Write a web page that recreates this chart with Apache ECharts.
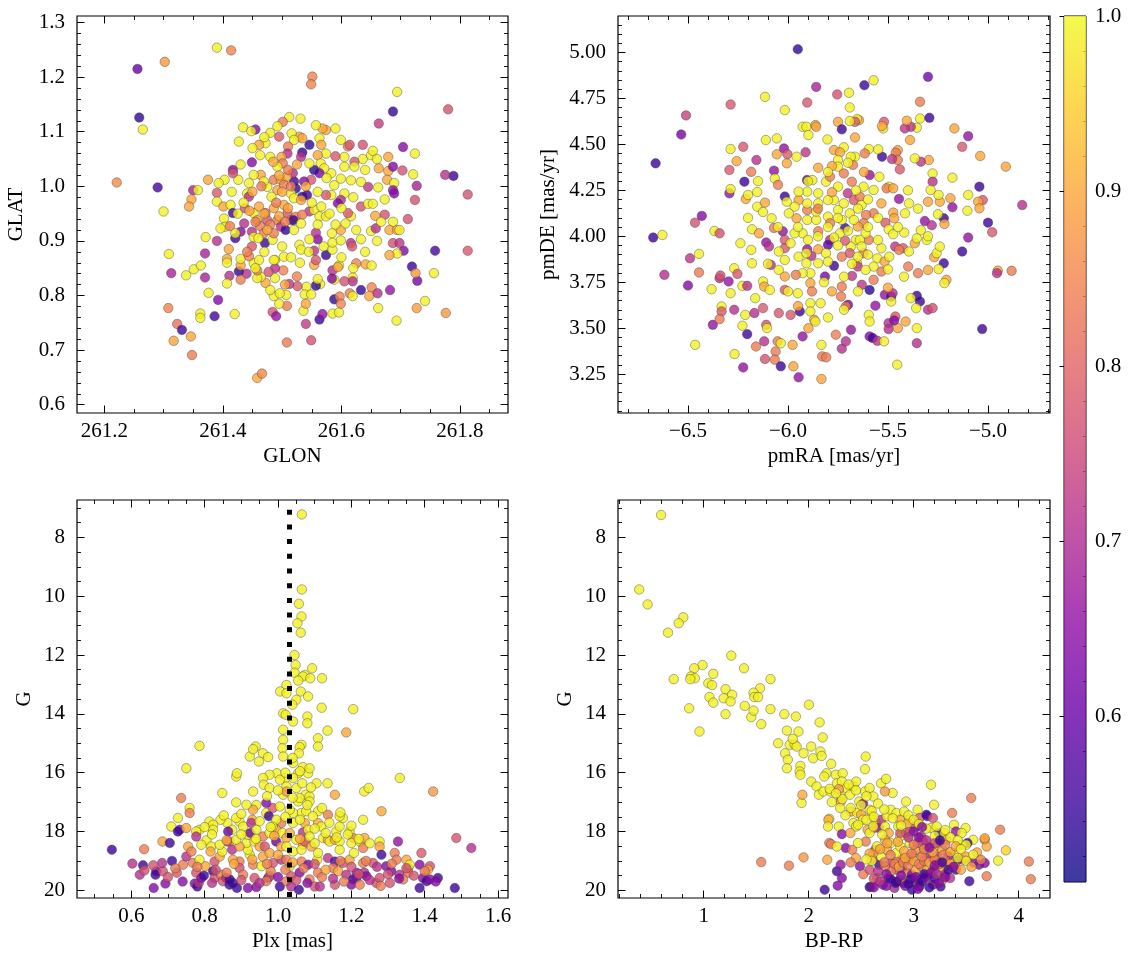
<!DOCTYPE html>
<html><head><meta charset="utf-8">
<script src="https://cdn.jsdelivr.net/npm/echarts@6/dist/echarts.min.js"></script>
<style>html,body{margin:0;padding:0;background:#fff}#c{width:1133px;height:965px}</style>
</head><body><div id="c"></div>
<script>
// ---- data: [x, y, membership probability] ----
const glonGlat = [
[261.390,1.254,.99],[261.414,1.249,.85],[261.256,1.215,.60],[261.302,1.228,.88],[261.551,1.201,.85],[261.549,1.187,.85],[261.694,1.173,.99],[261.259,1.126,.54],[261.265,1.104,.99],[261.687,1.137,.54],[261.780,1.141,.77],[261.663,1.115,.73],[261.221,1.007,.86],[261.290,0.998,.56],[261.300,0.954,.99],[261.789,1.019,.55],[261.775,1.021,.71],[261.813,0.985,.77],[261.813,0.882,.78],[261.758,0.882,.56],[261.756,0.841,.99],[261.741,0.790,.99],[261.727,0.777,.89],[261.776,0.768,.88],[261.693,0.754,.99],[261.719,0.853,.55],[261.728,0.827,.62],[261.725,0.841,.88],[261.724,0.975,.77],[261.727,1.001,.69],[261.724,1.060,.99],[261.704,1.072,.64],[261.703,1.029,.77],[261.721,1.022,.99],[261.712,0.940,.77],[261.705,0.882,.64],
[261.308,0.777,.85],[261.313,0.841,.69],[261.309,0.876,.99],[261.323,0.748,.82],[261.331,0.737,.55],[261.317,0.717,.9],[261.346,0.725,.9],[261.348,0.691,.84],[261.386,0.762,.56],[261.392,0.792,.64],[261.362,0.767,.99],[261.362,0.759,.99],[261.420,0.766,.99],[261.350,0.993,.69],[261.347,0.976,.9],[261.343,0.963,.9],[261.358,0.993,.99],[261.375,1.012,.9],[261.338,0.837,.99],[261.351,0.848,.99],[261.363,0.855,.99],[261.370,0.877,.69],[261.371,0.907,.99],[261.390,0.900,.71],[261.370,0.833,.69],[261.376,0.805,.99],[261.390,0.988,.78],[261.458,0.649,.9],[261.466,0.657,.86],[261.508,0.714,.84],[261.549,0.718,.77],[261.540,0.748,.73],[261.563,0.756,.55],[261.568,0.766,.66],[261.536,0.772,.99],[261.585,0.767,.99],[261.596,0.769,.99],[261.662,0.777,.99],[261.484,0.770,.77],[261.490,0.762,.66],[261.508,0.781,.84],[261.495,0.785,.99],
[261.588,0.793,.54],[261.597,0.798,.85],[261.599,0.785,.85],[261.614,0.804,.85],[261.619,0.799,.99],[261.633,0.810,.54],[261.651,0.815,.85],[261.647,0.799,.9],[261.661,0.804,.71],[261.682,0.810,.66],[261.625,0.859,.85],[261.641,0.857,.9],[261.651,0.855,.99],[261.619,0.833,.99],[261.619,0.826,.71],[261.605,0.826,.77],[261.588,0.829,.99],[261.585,0.846,.71],[261.596,0.855,.99],[261.594,0.852,.9],[261.584,0.831,.64],[261.564,0.821,.99],[261.557,0.818,.54],[261.560,0.830,.99],[261.541,0.816,.99],[261.538,0.802,.99],[261.549,0.802,.99],[261.540,0.785,.9],[261.525,0.835,.85],[261.526,0.817,.78],[261.512,0.821,.72],[261.505,0.820,.9],[261.502,0.846,.85],[261.507,0.801,.99],[261.488,0.865,.99],[261.488,0.850,.71],[261.488,0.832,.99],[261.472,0.823,.9],[261.477,0.843,.77],[261.464,0.834,.99],[261.458,0.832,.99],[261.458,0.846,.85],[261.452,0.859,.99],[261.440,0.840,.71],[261.427,0.844,.54],[261.430,0.829,.84],[261.411,0.836,.71],[261.407,0.822,.99],[261.430,0.855,.9],[261.430,0.867,.99],[261.407,0.867,.9],[261.407,0.860,.99],[261.449,0.890,.78],[261.444,0.872,.85],[261.461,0.865,.99],[261.471,0.896,.55],[261.486,0.865,.99],[261.503,0.871,.99],[261.554,0.856,.9],[261.557,0.865,.78],[261.554,0.882,.72],[261.574,0.874,.54],[261.570,0.890,.99],[261.585,0.884,.99],[261.585,0.897,.99],[261.599,0.901,.99],[261.599,0.920,.9],[261.584,0.914,.99],[261.560,0.903,.64],[261.557,0.915,.71],[261.546,0.903,.99],[261.529,0.893,.99],[261.532,0.884,.99],
[261.616,0.945,.99],[261.611,0.951,.78],[261.607,0.932,.99],[261.625,0.920,.99],[261.616,0.896,.71],[261.618,0.890,.78],[261.633,0.903,.99],[261.650,0.918,.99],[261.658,0.923,.71],[261.673,0.948,.77],[261.657,0.946,.9],[261.667,0.935,.99],[261.687,0.935,.99],[261.681,0.920,.9],[261.694,0.920,.9],[261.698,0.920,.99],[261.687,0.896,.77],[261.698,0.896,.72],[261.694,0.877,.99],[261.681,0.874,.9],[261.633,0.963,.77],[261.645,0.999,.72],[261.645,0.968,.99],[261.653,0.968,.99],[261.662,0.998,.99],[261.663,1.033,.9],[261.636,1.076,.77],[261.636,1.050,.99],[261.650,1.057,.99],[261.653,1.065,.99],[261.679,1.054,.9],[261.679,1.028,.9],[261.677,1.012,.9],[261.689,1.006,.99],[261.687,1.036,.64],[261.687,0.993,.66],[261.689,0.987,.64],[261.673,0.976,.99],[261.633,1.008,.99],[261.616,1.011,.99],[261.622,1.045,.78],[261.622,1.036,.99],[261.611,1.073,.84],[261.614,1.076,.78],[261.599,1.085,.99],[261.605,1.054,.99],[261.605,1.036,.99],[261.599,1.014,.99],[261.605,0.987,.99],[261.599,0.975,.71],[261.594,0.969,.63],[261.583,0.984,.99],[261.574,0.984,.78],[261.588,1.002,.99],[261.583,1.024,.99],[261.590,1.055,.78],[261.590,1.106,.99],[261.574,1.103,.9],[261.568,1.106,.9],[261.557,1.112,.99],[261.563,1.088,.99],[261.566,1.076,.9],[261.574,1.060,.99],[261.560,1.057,.9],[261.565,1.042,.99],[261.571,1.033,.99],[261.563,1.024,.63],[261.554,1.030,.54],[261.546,1.076,.54],[261.534,1.062,.54],[261.532,1.054,.71],[261.546,1.042,.99],[261.549,1.012,.78],[261.537,1.009,.64],[261.534,0.981,.54],[261.542,0.984,.55],[261.523,0.996,.54],[261.520,1.009,.55],[261.518,1.024,.71],
[261.529,1.091,.9],[261.534,1.088,.9],[261.531,1.124,.99],[261.512,1.127,.99],[261.501,1.118,.84],[261.492,1.110,.99],[261.495,1.091,.78],[261.480,1.098,.99],[261.516,1.097,.99],[261.520,1.085,.99],[261.510,1.073,.84],[261.509,1.060,.71],[261.499,1.054,.9],[261.501,1.042,.84],[261.492,1.036,.99],[261.480,1.054,.99],[261.472,1.079,.99],[261.463,1.057,.99],[261.461,1.076,.9],[261.449,1.044,.64],[261.455,1.104,.64],[261.434,1.108,.99],[261.448,1.101,.99],[261.427,1.082,.99],[261.464,1.021,.9],[261.452,1.021,.99],[261.444,1.006,.99],[261.441,0.987,.99],[261.444,0.981,.71],[261.426,1.012,.99],[261.417,1.030,.64],[261.417,1.024,.77],[261.403,1.012,.99],[261.393,1.006,.99],[261.390,0.972,.99],[261.401,0.963,.9],[261.413,0.966,.99],[261.417,0.951,.55],[261.402,0.941,.99],[261.404,0.926,.99],[261.396,0.923,.99],[261.412,0.927,.84],[261.421,0.905,.55],[261.430,0.917,.64],[261.410,0.885,.9],[261.421,0.914,.99],[261.437,0.960,.77],[261.452,0.951,.99],[261.461,0.963,.9],[261.458,0.938,.9],[261.463,0.927,.84],[261.449,0.917,.71],[261.436,0.932,.71],[261.441,0.880,.84],[261.452,0.907,.99],[261.469,0.914,.84],[261.472,0.951,.84],[261.475,0.938,.78],[261.484,0.902,.99],[261.486,0.914,.84],[261.492,0.938,.84],[261.498,0.926,.71],[261.506,0.920,.54],[261.509,0.951,.78],[261.515,0.938,.84],[261.523,0.944,.84],[261.519,0.938,.54],[261.503,0.966,.9],[261.486,0.960,.9],[261.492,0.993,.9],[261.482,0.981,.99],[261.475,0.999,.99],[261.469,1.009,.99],[261.486,1.012,.84],[261.498,1.012,.9],[261.503,1.003,.84],[261.508,1.018,.9],[261.515,0.987,.99],[261.520,0.978,.99],[261.532,0.975,.9],[261.546,0.954,.72],[261.534,0.948,.84],[261.554,0.957,.99],[261.563,0.945,.99],[261.574,0.945,.99],[261.566,0.963,.99],[261.520,0.920,.99],[261.532,0.932,.99],[261.486,0.799,.99],[261.496,0.804,.99],
[261.470,0.950,.9],[261.480,0.930,.84],[261.495,0.945,.9],[261.505,0.935,.84],[261.510,0.960,.9],[261.490,0.970,.84],[261.500,0.990,.9],[261.515,1.000,.84],[261.525,1.040,.9],[261.510,1.030,.84],[261.495,1.020,.9],[261.485,1.045,.9],[261.475,0.920,.9],[261.460,0.905,.99],[261.455,0.935,.84],[261.445,0.955,.9],[261.435,0.970,.99],[261.425,0.950,.99],[261.415,0.990,.99],[261.430,1.040,.99],[261.450,1.070,.99],[261.470,1.090,.99],[261.540,1.000,.9],[261.550,0.970,.99],[261.560,0.990,.99],[261.575,1.015,.99],[261.580,0.950,.99],[261.590,0.930,.99],[261.600,0.960,.99],[261.620,0.980,.99],[261.640,1.030,.99],[261.660,1.050,.99],[261.560,0.930,.99],[261.545,0.880,.99],[261.530,0.860,.99],[261.515,0.870,.99],[261.500,0.890,.99],[261.470,0.880,.99],[261.455,0.850,.99],[261.480,0.810,.99],[261.600,0.870,.99],[261.620,0.850,.99],[261.640,0.880,.99],[261.660,0.900,.99],[261.450,0.990,.9],[261.465,1.000,.84]
];
const pmRaDe = [
[-5.951,5.018,.54],[-5.618,4.822,.55],[-5.572,4.849,.99],[-5.300,4.868,.62],[-5.859,4.813,.69],[-5.754,4.772,.77],[-5.695,4.781,.99],[-5.904,4.728,.78],[-6.115,4.759,.99],[-6.016,4.687,.99],[-6.287,4.717,.78],[-6.510,4.658,.74],[-6.534,4.554,.62],[-6.662,4.397,.55],[-6.674,3.993,.55],[-6.628,4.007,.99],[-6.618,3.790,.71],[-6.500,3.732,.64],[-6.490,3.880,.72],[-6.465,4.074,.77],[-6.431,4.111,.64],[-6.445,3.803,.84],[-6.445,3.904,.99],[-6.464,3.409,.99],[-6.376,3.518,.66],[-6.382,3.712,.99],[-6.368,4.029,.99],[-6.342,4.016,.77],[-6.342,3.772,.71],[-6.338,3.786,.77],[-6.332,3.618,.99],[-6.332,3.591,.78],[-6.342,3.549,.84],[-6.297,3.754,.66],[-6.287,3.690,.99],[-6.293,4.234,.66],[-6.287,4.257,.99],[-6.293,4.361,.78],[-6.287,4.475,.99],[-6.257,4.409,.9],[-6.224,4.487,.78],[-6.218,4.297,.55],[-6.211,4.203,.9],[-6.184,4.351,.84],[-6.200,4.225,.99],[-6.269,3.826,.99],[-6.253,3.795,.78],[-6.269,3.600,.71],[-6.267,3.359,.99],[-6.238,3.962,.99],[-6.228,3.730,.99],[-6.204,3.730,.71],[-6.214,3.572,.99],[-6.228,3.513,.99],[-6.204,3.467,.55],[-6.224,3.286,.66],[-6.180,4.038,.99],[-6.184,3.926,.99],[-6.180,3.853,.99],[-6.164,3.663,.99],[-6.168,3.582,.71],[-6.158,4.415,.71],[-6.154,4.241,.99],[-6.154,4.161,.99],[-6.145,4.016,.9],[-6.160,3.400,.84],[-6.125,3.609,.78],[-6.119,3.428,.71],[-6.115,3.332,.77],[-6.109,3.518,.77],[-6.105,3.500,.99],[-6.125,3.754,.99],[-6.119,3.726,.9],[-6.091,3.708,.99],[-6.111,4.524,.99],[-6.115,4.183,.9],[-6.125,4.132,.99],[-6.109,3.966,.66],[-6.095,3.944,.71],[-6.086,3.844,.71],[-6.070,4.045,.84],[-6.082,4.098,.99],[-6.070,4.357,.66],[-6.066,4.315,.99],[-6.056,4.533,.99],[-6.056,4.446,.9],[-6.052,3.428,.84],[-6.062,3.373,.84],[-6.066,3.328,.84],[-6.046,3.582,.78],[-6.036,3.418,.99],[-6.036,3.292,.55],[-6.026,4.027,.66],[-6.016,3.980,.78],[-6.016,3.935,.78],[-6.016,3.708,.78],[-6.016,3.781,.9],[-6.020,4.478,.66],[-6.016,4.216,.55],[-6.006,4.397,.9],[-6.003,4.447,.78],[-5.987,3.572,.78],[-5.977,3.409,.9],[-5.973,3.292,.9],[-5.947,3.232,.66],[-5.941,3.591,.55],[-5.947,3.889,.99],[-5.951,3.690,.99],[-5.927,3.455,.66],[-5.957,4.098,.9],[-5.947,4.197,.9],[-5.957,4.433,.99],[-5.912,4.457,.72],[-5.905,4.306,.55],[-5.927,4.596,.99],[-5.908,4.596,.99],[-5.898,4.551,.99],[-5.863,4.605,.9],[-5.859,4.596,.9],[-5.904,4.143,.84],[-5.904,3.929,.66],[-5.883,3.893,.71],[-5.888,3.745,.9],[-5.888,3.636,.99],[-5.888,3.591,.99],[-5.869,3.545,.9],[-5.863,3.536,.99],[-5.898,3.500,.9],[-5.837,3.636,.99],[-5.833,3.409,.99],[-5.829,3.346,.84],[-5.809,3.341,.84],[-5.833,3.223,.9],[-5.800,3.558,.99],[-5.761,3.464,.84],[-5.731,3.388,.71],[-5.711,3.428,.71],[-5.685,3.491,.66],[-5.700,3.627,.62],[-5.711,3.618,.84],[-5.770,3.839,.55],[-5.815,3.781,.62],[-5.731,3.726,.84],[-5.735,3.672,.84],[-5.680,3.784,.72],[-5.655,3.853,.99],[-5.651,3.835,.72],[-5.631,3.736,.72],[-5.596,3.572,.99],[-5.592,3.536,.99],[-5.592,3.708,.53],[-5.592,3.455,.64],[-5.576,3.446,.55],[-5.553,3.431,.72],[-5.563,3.622,.66],[-5.520,3.428,.99],[-5.454,3.301,.99],[-5.516,3.681,.66],[-5.484,3.672,.55],[-5.477,3.690,.71],[-5.463,3.563,.78],[-5.484,3.645,.99],[-5.497,3.527,.71],[-5.497,3.495,.71],[-5.451,3.500,.9],[-5.412,3.536,.9],[-5.469,3.542,.64],[-5.356,3.676,.55],[-5.340,3.645,.55],[-5.359,3.609,.99],[-5.356,3.500,.99],[-5.356,3.418,.71],[-5.300,3.600,.71],[-5.277,3.609,.77],[-5.386,3.663,.99],[-5.399,3.835,.84],[-5.350,3.799,.84],[-5.300,3.817,.9],[-5.269,3.886,.9],[-5.221,3.853,.55],[-5.208,3.763,.9],[-5.218,3.745,.99],[-5.247,3.821,.99],[-5.257,3.908,.99],[-5.241,3.944,.99],[-5.129,3.917,.55],[-5.099,3.993,.66],[-5.029,3.495,.55],[-4.951,3.813,.9],[-4.955,3.799,.71],[-4.882,3.812,.84],[-4.979,4.022,.78],[-5.000,4.074,.55],[-4.911,4.379,.9],[-4.829,4.170,.71],[-5.026,4.197,.78],[-5.049,4.188,.9],[-5.043,4.152,.9],[-5.043,4.270,.55],[-5.039,4.437,.9],[-5.129,4.487,.78],[-5.099,4.545,.66],[-5.168,4.587,.9],[-5.103,4.139,.99],[-5.099,4.225,.99],[-5.178,4.158,.66],[-5.178,4.319,.99],[-5.188,4.207,.9],[-5.241,4.188,.9],[-5.221,4.098,.55],[-5.218,4.067,.9],[-5.247,4.225,.99],[-5.277,4.342,.99],[-5.277,4.297,.71],[-5.287,4.252,.99],[-5.300,4.188,.9],[-5.316,4.083,.66],[-5.281,4.060,.71],[-5.336,4.033,.99],[-5.306,3.980,.99],[-5.296,4.415,.9],[-5.336,4.406,.72],[-5.366,4.424,.99],[-5.340,4.641,.99],[-5.293,4.645,.55],[-5.340,4.732,.84],[-5.356,4.591,.99],[-5.386,4.596,.72],[-5.416,4.587,.72],[-5.406,4.629,.9],[-5.390,4.524,.9],[-5.451,4.469,.9],[-5.461,4.455,.84],[-5.451,4.415,.84],[-5.441,4.364,.78],[-5.480,4.420,.72],[-5.530,4.433,.55],[-5.549,4.473,.99],[-5.520,4.623,.78],[-5.524,4.587,.99],[-5.530,4.600,.9],[-5.596,4.475,.99],[-5.616,4.451,.84],[-5.665,4.433,.99],[-5.675,4.388,.84],[-5.686,4.433,.99],[-5.645,4.632,.9],[-5.655,4.638,.99],[-5.665,4.623,.78],[-5.691,4.627,.99],[-5.665,4.538,.9],[-5.691,4.701,.99],[-5.750,4.623,.9],[-5.731,4.582,.55],[-5.803,4.527,.99],[-5.770,4.469,.9],[-5.721,4.484,.99],[-5.740,4.457,.9],[-5.750,4.415,.99],[-5.750,4.379,.99],[-5.780,4.382,.9],[-5.849,4.373,.9],[-5.878,4.306,.99],[-5.810,4.297,.99],[-5.790,4.324,.84],[-5.750,4.270,.99],[-5.721,4.342,.84],[-5.701,4.234,.72],[-5.681,4.297,.84],[-5.671,4.197,.78],[-5.641,4.216,.84],[-5.622,4.270,.99],[-5.592,4.333,.66],[-5.572,4.252,.99],[-5.543,4.324,.99],[-5.494,4.270,.99],[-5.507,4.261,.84],[-5.474,4.261,.9],[-5.445,4.203,.66],[-5.395,4.179,.99],[-5.415,4.125,.99],[-5.474,4.129,.9],[-5.469,4.098,.9],[-5.533,4.179,.9],[-5.572,4.125,.84],[-5.610,4.116,.84],[-5.632,4.170,.99],[-5.622,4.071,.84],[-5.651,4.053,.9],[-5.513,4.074,.78],[-5.497,4.038,.99],[-5.474,4.011,.99],[-5.419,4.020,.99],[-5.464,3.944,.72],[-5.425,3.935,.78],[-5.445,3.926,.84],[-5.395,3.917,.99],[-5.366,3.962,.9],[-5.356,3.989,.99],[-5.533,3.935,.99],[-5.553,3.880,.99],[-5.517,3.862,.9],[-5.494,3.889,.99],[-5.533,3.808,.84],[-5.572,3.763,.84],[-5.572,3.835,.99],[-5.612,3.817,.99],[-5.622,3.908,.84],[-5.596,3.980,.84],[-5.612,4.016,.99],[-5.661,3.980,.99],[-5.686,3.944,.99],[-5.691,3.908,.78],[-5.651,3.889,.99],[-5.731,3.889,.84],[-5.715,3.976,.78],[-5.715,4.045,.55],[-5.740,4.016,.99],[-5.790,3.980,.71],[-5.800,3.953,.58],[-5.770,3.993,.99],[-5.849,4.027,.84],[-5.849,3.929,.9],[-5.810,3.908,.99],[-5.800,3.862,.99],[-5.849,3.853,.99],[-5.908,3.853,.99],[-5.888,3.799,.99],[-5.927,3.799,.99],[-5.961,3.790,.84],[-5.908,3.908,.99],[-5.927,4.016,.99],[-5.904,4.089,.99],[-5.859,4.089,.99],[-5.859,4.134,.99],[-5.800,4.107,.99],[-5.790,4.071,.84],[-5.750,4.143,.99],[-5.721,4.179,.99],[-5.770,4.197,.99],[-5.800,4.197,.99],[-5.849,4.234,.99],[-5.904,4.243,.99],[-5.947,4.243,.99],[-5.967,4.161,.99],[-5.996,4.125,.99],[-6.006,4.188,.99],[-5.904,4.179,.99],[-5.849,4.179,.99],[-5.691,4.125,.99],[-5.671,4.089,.99],[-5.731,4.089,.99],[-5.641,3.980,.99],[-5.632,3.944,.99],[-6.016,3.871,.99],[-6.046,3.917,.99],[-5.987,3.962,.99],[-5.967,4.016,.99],[-6.046,3.817,.99],
[-5.950,4.050,.99],[-5.900,3.980,.99],[-5.850,4.000,.99],[-5.800,4.050,.99],[-5.750,4.100,.99],[-5.700,4.030,.99],[-5.650,4.150,.99],[-5.600,4.050,.99],[-5.550,4.100,.99],[-5.750,3.950,.99],[-5.680,3.850,.99],[-5.600,3.900,.99],[-5.550,3.980,.99],[-5.820,3.750,.99],[-5.780,3.700,.9],[-5.720,3.780,.99],[-5.650,3.700,.99],[-5.900,4.300,.99],[-5.800,4.350,.99],[-5.700,4.400,.99],[-5.620,4.350,.9],[-5.850,4.150,.84],[-5.780,4.240,.9],[-5.660,4.250,.99],[-5.600,4.200,.99],[-6.050,4.050,.99],[-6.100,3.850,.99],[-6.000,3.700,.99],[-5.950,3.620,.9],[-5.500,3.820,.99],[-5.450,4.050,.99],[-5.400,4.250,.99],[-5.350,4.150,.99],[-5.300,4.000,.99],[-5.250,4.120,.99],[-6.150,4.300,.99],[-6.200,4.100,.99],[-6.050,4.280,.84],[-5.880,3.700,.84],[-5.720,3.600,.99],[-5.500,3.720,.9],[-5.420,3.780,.99]
];
const plxG = [
[1.065,7.22,.99],[1.065,9.77,.99],[1.057,10.26,.99],[1.064,10.69,.99],[1.053,10.92,.99],[1.062,11.24,.99],[1.045,12.00,.99],[1.048,12.34,.99],[1.045,12.60,.99],[1.073,12.68,.99],[1.068,12.73,.99],[1.088,12.79,.99],[1.093,12.45,.99],[1.055,12.87,.99],[1.120,12.79,.99],[1.023,13.02,.99],[1.006,13.24,.99],[1.023,13.30,.99],[1.062,13.24,.99],[1.050,13.52,.99],[1.039,13.69,.99],[1.082,13.41,.99],[1.119,13.79,.99],[1.205,13.84,.99],[1.014,13.98,.99],[1.021,14.03,.99],[1.080,14.09,.99],[1.080,14.32,.99],[1.041,14.26,.99],[1.014,14.54,.99],[1.109,14.83,.99],[1.109,15.11,.99],[1.135,14.57,.99],[1.186,14.63,.9],[1.064,15.05,.99],[1.059,15.13,.99],[1.057,15.34,.99],[1.014,14.88,.99],[1.012,15.17,.99],[1.014,15.45,.99],[0.959,15.34,.99],[0.973,15.47,.99],[0.948,15.62,.99],[0.923,15.45,.99],[0.939,15.11,.99],[0.932,15.20,.99],[0.786,15.09,.99],[0.750,15.85,.99],[1.041,15.67,.99],[1.068,15.81,.99],[1.082,16.02,.99],[1.086,15.85,.99],[1.055,16.02,.99],[1.041,16.18,.99],[1.021,16.18,.99],[0.997,16.02,.99],[0.977,16.07,.99],[0.959,16.18,.99],[0.961,16.41,.99],[0.977,16.52,.99],[0.932,16.64,.99],[0.886,16.13,.99],[0.888,16.02,.99],[0.848,16.69,.99],[0.886,17.01,.99],[1.005,16.24,.99],[1.023,16.47,.99],[1.014,16.75,.99],[1.050,16.52,.99],[1.066,16.36,.99],[1.075,16.75,.99],[1.086,16.81,.99],[1.086,16.98,.99],[1.105,16.36,.99],[1.135,16.36,.99],[1.332,16.18,.99],[1.235,16.64,.99],[1.247,16.52,.99],[1.423,16.64,.88],[1.155,16.75,.9],[1.023,16.64,.88],[0.941,17.10,.99],[0.968,17.37,.99],[0.986,17.20,.78],[0.968,17.03,.64],[0.975,17.48,.55],[0.932,17.26,.9],[0.914,17.09,.99],[0.930,17.60,.9],[0.895,17.66,.99],[0.862,17.71,.99],[0.875,17.94,.99],[0.886,17.54,.99],[0.843,17.60,.99],[0.813,17.66,.99],[0.823,17.77,.99],[0.823,17.94,.99],[0.852,17.45,.99],[0.736,16.86,.84],[0.759,17.20,.99],[0.759,17.37,.84],[0.727,17.54,.99],[0.709,17.83,.99],[0.732,17.94,.64],[0.727,18.00,.55],[0.750,17.88,.9],[0.786,17.94,.99],[0.777,18.00,.99],[0.777,18.17,.71],[0.805,18.30,.99],[0.791,18.45,.99],[0.685,18.34,.9],[0.705,18.39,.55],[0.547,18.62,.55],[0.635,18.60,.84],[0.603,19.09,.71],[0.632,19.15,.55],[0.623,19.47,.71],[0.636,19.32,.77],[0.661,19.92,.64],[0.668,19.35,.64],[0.666,19.47,.55],[0.686,19.35,.77],[0.684,19.07,.71],[0.693,19.77,.64],[0.711,19.00,.55],[0.724,19.40,.78],[0.741,19.13,.84],[0.750,18.85,.71],[0.755,18.51,.9],[0.764,18.68,.84],[0.768,19.07,.84],[0.777,19.40,.77],[0.773,19.77,.64],[0.780,19.87,.55],[0.784,19.75,.72],[0.791,19.58,.64],[0.798,19.50,.55],[0.802,19.18,.9],[0.786,18.96,.99],[0.818,18.51,.99],[0.816,18.68,.9],[0.827,19.02,.77],[0.823,19.35,.55],[0.827,19.58,.77],[0.845,19.47,.84],[0.850,19.69,.77],[0.859,19.58,.71],[0.841,18.85,.9],[0.848,18.68,.99],[0.868,18.34,.9],[0.864,18.00,.6],[0.862,18.34,.77],[0.875,18.62,.71],[0.868,19.81,.55],[0.877,19.75,.55],[0.868,19.63,.55],[0.888,19.92,.55],[0.895,19.02,.84],[0.895,19.24,.77],[0.905,19.47,.84],[0.918,19.92,.64],[0.941,19.89,.64],[0.936,19.58,.77],[0.932,19.13,.84],[0.923,18.79,.99],[0.918,18.62,.99],[0.914,18.39,.99],[0.918,18.11,.99],[0.905,17.83,.99],[0.927,17.71,.71],[0.925,18.05,.62],[0.941,17.94,.99],[0.936,18.34,.99],[0.950,18.51,.9],[0.959,18.17,.84],[0.964,18.51,.77],[0.959,18.85,.9],[0.955,19.18,.99],[0.973,19.58,.55],[0.977,19.52,.77],[0.968,19.69,.84],[0.986,19.07,.77],[0.995,18.34,.6],[1.009,17.71,.84],[0.995,17.94,.9],[1.012,18.05,.99],[1.023,18.22,.9],[1.032,18.05,.9],[1.009,18.51,.9],[1.009,18.96,.71],[1.005,19.87,.55],[1.023,19.69,.84],[1.036,19.87,.71],[1.036,19.52,.77],[1.032,19.18,.99],[1.041,18.68,.99],[1.023,18.96,.84],[1.057,19.98,.55],[1.059,19.40,.64],[1.064,19.02,.84],[1.068,18.45,.9],[1.064,18.62,.99],[1.073,17.71,.9],[1.068,18.03,.71],[1.064,17.37,.99],[1.077,17.31,.99],[1.082,17.94,.99],[1.073,18.34,.78],[1.082,19.13,.62],[1.086,19.63,.84],[1.100,19.87,.77],[1.109,19.40,.84],[1.114,19.87,.71],[1.107,18.96,.99],[1.109,18.73,.99],[1.109,17.31,.99],[1.109,17.71,.9],[1.118,17.83,.99],[1.123,18.22,.99],[1.136,18.28,.9],[1.136,18.90,.72],[1.136,17.43,.84],[1.141,18.34,.99],[1.155,18.28,.9],[1.155,19.02,.57],[1.159,18.00,.99],[1.168,17.83,.99],[1.168,18.34,.99],[1.168,18.62,.99],[1.150,19.24,.84],[1.164,19.35,.9],[1.155,19.81,.77],[1.186,19.47,.71],[1.177,19.07,.77],[1.195,18.96,.9],[1.205,18.22,.84],[1.207,18.73,.99],[1.200,18.39,.99],[1.195,18.00,.99],[1.177,17.54,.99],[1.168,17.48,.99],[1.205,19.63,.55],[1.214,19.58,.64],[1.200,19.81,.64],[1.214,19.40,.66],[1.223,19.81,.84],[1.232,17.60,.99],[1.223,18.34,.99],[1.232,18.56,.84],[1.236,18.22,.9],[1.232,19.07,.84],[1.235,19.40,.71],[1.241,19.52,.64],[1.259,19.07,.77],[1.268,19.75,.77],[1.277,18.34,.99],[1.277,18.51,.9],[1.282,17.31,.9],[1.282,18.79,.55],[1.277,19.58,.77],[1.305,19.75,.77],[1.295,19.18,.64],[1.309,19.35,.64],[1.318,18.73,.84],[1.323,18.96,.84],[1.327,18.34,.66],[1.332,19.47,.71],[1.350,18.96,.9],[1.355,19.24,.84],[1.355,19.40,.84],[1.359,19.13,.99],[1.386,19.13,.64],[1.391,18.73,.78],[1.386,19.92,.55],[1.395,19.58,.64],[1.405,19.69,.55],[1.414,19.63,.64],[1.414,19.18,.77],[1.436,19.58,.55],[1.486,18.22,.77],[1.527,18.56,.71],[1.482,19.92,.55],[1.341,19.63,.84],[1.409,19.30,.9],
[1.041,17.37,.99],[1.041,17.71,.99],[1.032,17.26,.99],[1.005,17.15,.99],[1.055,16.98,.99],[1.059,16.86,.99],[0.995,17.60,.99],[0.985,17.83,.99],[0.977,18.05,.99],[1.023,18.51,.99],[1.050,18.28,.99],[1.086,18.17,.99],[1.091,18.51,.9],[1.095,17.48,.99],[0.977,18.73,.9],[0.895,18.51,.9],[0.877,18.96,.9],[0.886,18.28,.99],[0.841,18.45,.99],
[0.700,19.55,.77],[0.740,19.70,.64],[0.820,19.75,.71],[0.860,19.40,.84],[0.900,19.65,.77],[0.950,19.75,.71],[0.980,19.35,.84],[1.000,19.55,.64],[1.020,19.30,.84],[1.050,19.65,.77],[1.080,19.75,.64],[1.120,19.55,.84],[1.150,19.60,.71],[1.180,19.70,.84],[1.220,19.45,.77],[1.250,19.65,.71],[1.280,19.85,.84],[1.300,19.45,.77],[1.330,19.60,.64],[1.370,19.50,.77],[1.400,19.35,.84],[1.430,19.70,.64],[0.780,19.20,.84],[0.830,19.30,.77],[0.880,19.10,.9],[0.930,18.95,.9],[0.970,19.10,.84],[1.000,18.80,.9],[1.040,19.05,.9],[1.070,19.25,.84],[1.100,19.10,.77],[1.130,19.30,.9],[1.170,19.00,.84],[1.200,19.20,.77],[1.240,19.00,.84],[1.270,19.20,.71],[1.310,19.10,.84],[1.350,19.25,.77],[0.720,19.25,.84],[0.660,19.15,.77],
[0.900,17.40,.99],[0.950,17.65,.99],[0.980,17.85,.99],[1.020,17.50,.99],[1.060,17.60,.99],[1.100,17.90,.99],[1.130,18.05,.99],[1.160,18.20,.99],[1.190,18.10,.99],[1.220,18.25,.99],[1.250,18.40,.99],[1.140,17.70,.99],[1.100,18.40,.99],[1.060,18.25,.9],[0.990,18.15,.9],[0.940,18.25,.99],[0.900,18.10,.99],[0.860,18.30,.9],[0.820,18.10,.99],[0.800,17.85,.99],[1.000,16.60,.99],[1.040,16.85,.99],[1.080,17.10,.99],[0.970,16.80,.99],[1.020,16.00,.99],[1.060,15.95,.99],[1.040,15.50,.99],[1.090,16.50,.99],[1.120,17.20,.99],[1.170,17.35,.99],[1.200,17.80,.99]
];
const bprpG = [
[0.594,7.24,.99],[0.386,9.77,.99],[0.466,10.28,.99],[0.806,10.72,.99],[0.762,10.92,.99],[0.660,11.24,.99],[0.989,12.34,.99],[0.909,12.45,.99],[1.263,12.02,.99],[1.384,12.45,.99],[1.091,12.64,.99],[1.636,12.82,.99],[0.715,12.82,.99],[0.879,12.73,.99],[0.916,12.79,.99],[0.872,12.82,.99],[1.044,12.96,.99],[1.080,13.02,.99],[1.208,13.16,.99],[1.537,13.13,.99],[1.475,13.28,.99],[1.482,13.43,.99],[1.519,13.43,.99],[1.271,13.35,.99],[1.190,13.47,.99],[1.256,13.58,.99],[1.055,13.43,.99],[1.091,13.62,.99],[0.861,13.81,.99],[1.391,13.73,.99],[1.453,14.11,.99],[1.475,13.89,.99],[1.636,13.84,.99],[1.208,14.01,.99],[1.548,14.35,.99],[0.960,14.60,.99],[2.002,13.69,.99],[1.768,14.01,.99],[1.878,14.09,.99],[2.104,14.29,.99],[1.793,14.57,.99],[1.903,14.60,.99],[2.133,14.80,.99],[1.709,15.00,.99],[1.819,15.05,.99],[1.867,15.05,.99],[1.775,15.34,.99],[1.801,15.56,.99],[1.793,15.85,.99],[1.885,15.11,.99],[1.848,14.85,.99],[1.921,15.77,.99],[1.914,15.96,.99],[1.921,16.07,.99],[1.951,15.34,.99],[2.024,15.11,.99],[2.042,15.51,.99],[2.112,15.28,.99],[2.123,15.43,.99],[2.214,15.70,.99],[2.170,16.02,.99],[2.148,16.13,.99],[2.024,16.30,.99],[2.075,16.47,.99],[2.097,16.75,.99],[2.141,16.64,.99],[2.207,16.64,.99],[2.258,16.07,.99],[2.269,16.36,.99],[2.324,16.02,.99],[2.316,16.30,.99],[2.360,16.52,.99],[2.426,16.47,.99],[2.452,16.30,.99],[2.305,16.81,.99],[2.393,16.75,.99],[2.481,16.98,.99],[2.543,15.45,.99],[2.536,15.88,.99],[2.536,16.64,.99],[2.580,16.52,.99],[2.616,16.81,.99],[1.932,17.03,.99],[1.940,16.75,.9],[2.287,16.56,.88],[2.305,16.98,.88],[2.518,17.06,.62],[2.689,16.36,.99],[2.737,16.21,.99],[2.799,16.69,.99],[2.726,16.64,.88],[3.165,16.41,.99],[3.548,16.86,.84],
[2.196,17.57,.99],[2.188,17.60,.9],[2.184,17.83,.99],[2.287,17.83,.99],[2.404,17.32,.9],[2.462,17.37,.99],[2.499,17.43,.9],[2.517,17.60,.99],[2.426,17.71,.99],[2.452,17.83,.99],[2.580,17.26,.99],[2.598,17.48,.99],[2.645,17.71,.99],[2.671,17.88,.64],[2.689,17.60,.71],[2.744,17.48,.99],[2.781,17.26,.99],[2.836,17.37,.99],[2.872,17.60,.9],[2.927,16.98,.99],[2.909,17.32,.99],[2.963,17.60,.99],[3.037,17.26,.99],[3.055,17.54,.78],[3.128,17.48,.62],[3.121,17.43,.55],[3.183,17.54,.77],[3.194,17.09,.99],[3.366,17.37,.84],[3.384,17.77,.99],[3.494,17.88,.99],[3.567,18.28,.99],[3.512,18.39,.55],[3.402,18.00,.66],[3.676,18.28,.84],[3.823,17.94,.84],[3.695,18.51,.9],[3.603,18.71,.9],[3.878,18.64,.95],[3.804,18.99,.99],[4.097,19.02,.84],[4.115,19.62,.84],[3.695,19.52,.84],[3.567,19.05,.64],[3.622,19.13,.64],[3.676,19.07,.64],[3.530,19.69,.55],[3.238,18.05,.55],[3.238,18.39,.64],[3.384,18.73,.99],[3.457,18.45,.99],[3.475,18.96,.77],[3.420,18.96,.55],[3.402,19.30,.55],[3.347,19.18,.84],[3.329,18.85,.66],[3.238,19.07,.55],[3.165,19.41,.55],[3.110,19.52,.64],[3.055,19.64,.55],[3.018,19.75,.64],[2.982,19.98,.55],[3.055,19.87,.55],[3.183,19.81,.64],[3.256,19.87,.55],[2.901,19.75,.6],[2.817,19.92,.69],[2.828,19.75,.55],[2.762,19.58,.64],[2.707,19.81,.64],[2.653,19.58,.84],[2.598,19.87,.84],[2.580,19.89,.55],[2.671,19.13,.55],[2.616,18.96,.71],[2.634,18.62,.71],[2.543,18.34,.84],[2.488,19.18,.64],[2.269,19.35,.55],[2.316,19.58,.64],[2.276,19.84,.64],[2.305,19.13,.66],[2.152,19.98,.55],[2.316,18.09,.64],[2.353,18.56,.64],[2.415,18.62,.84],[2.196,18.39,.84],[2.214,18.43,.84],[2.177,18.96,.9],[1.951,18.88,.88],[1.812,19.16,.84],[1.548,19.04,.84],[2.269,18.51,.99],[2.470,18.39,.99],[2.561,17.94,.9],[2.623,17.88,.77],[2.726,17.83,.99],[2.762,18.05,.9],[2.726,18.28,.9],[2.781,18.39,.99],[2.872,18.17,.99],[2.927,18.05,.84],[2.963,18.00,.77],[3.018,17.83,.77],[3.073,18.17,.71],[3.091,18.34,.77],[3.128,18.51,.84],[3.201,18.51,.9],[3.165,17.88,.99],[3.219,17.83,.99],[3.293,18.05,.99],[3.311,18.28,.9],[3.274,18.62,.9],[3.219,18.85,.77],[3.183,18.85,.84],[3.128,18.90,.71],[3.073,18.73,.9],[3.018,18.62,.9],[2.982,18.85,.84],[2.945,18.96,.77],[2.890,18.90,.84],[2.836,19.02,.84],[2.781,19.07,.77],[2.836,19.30,.77],[2.890,19.24,.64],[2.945,19.41,.84],[2.982,19.47,.64],[3.018,19.30,.9],[3.073,19.18,.84],[3.128,19.30,.9],[3.201,19.30,.77],[3.274,19.24,.9],[3.293,19.47,.71],[3.274,19.64,.84],[3.347,19.58,.71],[2.872,19.64,.84],[2.781,19.35,.84],[2.726,19.18,.84],[2.689,18.85,.99],[2.616,18.73,.9],[2.744,18.62,.9],[2.836,18.73,.99],[2.872,18.51,.99],[2.963,18.39,.99],[2.909,18.67,.9],[3.037,18.39,.77],[2.854,17.83,.99],[2.945,17.71,.9],[2.872,18.05,.77],[2.397,18.05,.9],[2.470,17.77,.99],[2.580,18.05,.99],[2.616,17.83,.99],[3.457,18.05,.99],[3.676,18.23,.9],[3.494,18.85,.9],[3.567,18.79,.99],[3.640,18.96,.84],
[2.600,17.30,.99],[2.660,17.05,.99],[2.720,17.25,.99],[2.800,17.55,.99],[2.880,17.80,.99],[2.950,17.45,.99],[3.000,17.60,.99],[3.050,17.75,.99],[3.120,17.90,.99],[3.200,18.15,.99],[3.300,17.95,.99],[3.350,18.20,.99],[3.420,18.30,.99],[3.500,18.45,.99],[2.500,17.10,.99],[2.550,17.60,.99],[2.400,17.20,.99],[2.350,17.45,.99],[2.300,17.20,.99],[2.320,16.90,.99],[2.220,17.00,.99],[2.200,16.55,.99],[2.260,16.70,.99],[2.380,16.40,.99],[2.450,16.60,.99],[2.550,16.80,.99],[2.620,17.50,.99],[2.700,18.10,.99],[2.650,18.50,.99],[2.580,18.75,.9],[2.600,19.00,.99],[2.550,18.95,.99],
[2.780,18.80,.84],[2.820,19.10,.84],[2.860,19.20,.9],[2.900,19.05,.84],[2.950,19.15,.84],[3.000,19.00,.9],[3.050,19.10,.84],[3.100,19.00,.84],[3.150,19.05,.9],[3.200,18.95,.84],[3.250,19.10,.84],[3.300,19.00,.84],[3.350,19.10,.9],[3.400,19.20,.84],[3.450,19.30,.9],[2.920,18.90,.9],[2.980,18.75,.84],[3.080,18.85,.84],[3.180,18.70,.9],[3.280,18.80,.84],[3.350,18.70,.9],[3.420,18.90,.99],[3.500,19.00,.99],[3.550,19.20,.9],[2.720,19.05,.84],[2.680,18.60,.9],[2.750,18.40,.9],[2.850,18.35,.9],[3.000,18.45,.84],[3.100,18.60,.84],[3.200,18.40,.77],[3.300,18.45,.84],[3.400,18.50,.9],[3.450,18.60,.99],
[2.450,18.90,.9],[2.520,19.45,.84],[2.580,19.30,.77],[2.400,19.05,.84],[2.620,19.60,.77],[2.660,19.35,.71],
[3.000,18.00,.64],[3.050,18.20,.64],[3.120,18.30,.71],[3.150,18.55,.64],[3.250,18.30,.55],[3.080,17.85,.64],[2.950,18.20,.71],
[2.780,19.62,.55],[2.840,19.70,.55],[2.920,19.85,.64],[2.970,19.62,.55],[3.020,19.55,.64],[3.080,19.70,.55],[3.120,19.58,.64],[3.150,19.90,.55],[3.200,19.60,.55],[3.240,19.75,.64],[2.880,19.50,.64],[2.950,19.78,.55],[3.040,19.95,.64],[3.100,19.45,.55],[3.170,19.38,.64],[3.220,19.45,.71],[3.300,19.55,.64],[3.330,19.30,.55],[3.380,19.20,.64],[3.270,19.05,.55],[3.200,19.15,.64],[2.740,19.85,.64],[2.680,19.70,.71],[2.620,19.90,.64],[2.740,19.45,.64]
];
// mean parallax marked by the dotted line
const plxMean = [1.032];
// colour scale
const probRange = [0.5055, 1.0];
const plasma = ['#0d0887','#41049d','#6a00a8','#8f0da4','#b12a90','#cc4778','#e16462','#f2844b','#fca636','#fcce25','#f0f921'];
// axis limits
const lim = {
  glon:[261.154,261.881], glat:[0.5848,1.312],
  pmra:[-6.85,-4.69], pmde:[3.038,5.199],
  plx:[0.452,1.627], g:[6.73,20.26], bprp:[0.184,4.298]
};

const FONT = "'Liberation Serif', 'DejaVu Serif', serif";
const FS = 21;
function fmt(d){ return v => (+v).toFixed(d).replace('-', '\u2212'); }
function steps(a,b,step){ const out=[]; const n0=Math.ceil(a/step-1e-7), n1=Math.floor(b/step+1e-7); for(let k=n0;k<=n1;k++) out.push(+(k*step).toFixed(6)); return out; }

const xAxes=[], yAxes=[];
function addAxes(list, dim, grid, range, major, minor, dec, name, nameGap, inverse){
  const maj = steps(range[0],range[1],major);
  const mnr = steps(range[0],range[1],minor).filter(v=>!maj.some(m=>Math.abs(m-v)<1e-7));
  const pos = dim==='x' ? ['bottom','top'] : ['left','right'];
  const first = list.length;
  pos.forEach((p,i)=>{
    const base = {type:'value', gridIndex:grid, min:range[0], max:range[1], inverse:!!inverse, position:p,
      splitLine:{show:false}, axisLine:{show:false}, axisPointer:{show:false}};
    list.push(Object.assign({}, base, {
      axisTick:{show:true, inside:true, length:7.5, customValues:maj, lineStyle:{color:'#000', width:1}},
      axisLabel: i===0 ? {show:true, customValues:maj, formatter:fmt(dec), margin: dim==='x'?8:12,
        fontFamily:FONT, fontSize:FS, color:'#000'} : {show:false},
      name: i===0 ? name : '', nameLocation:'middle', nameGap:nameGap,
      nameTextStyle:{fontFamily:FONT, fontSize:FS, color:'#000'}
    }));
    list.push(Object.assign({}, base, {
      axisTick:{show:true, inside:true, length:4, customValues:mnr, lineStyle:{color:'#000', width:0.9}},
      axisLabel:{show:false}
    }));
  });
  return first;
}

const grids = [
  {left:77, top:16, width:431, height:397},
  {left:618, top:16, width:432, height:397},
  {left:77, top:500, width:431, height:398},
  {left:618, top:500, width:432, height:398},
  {left:1064, top:16, width:22, height:866}
].map(g=>Object.assign({show:true, borderColor:'#000', borderWidth:1.2, backgroundColor:'transparent', containLabel:false}, g));
grids[4].borderWidth = 1;

const ax = [];
ax.push([addAxes(xAxes,'x',0,lim.glon,0.2,0.05,1,'GLON',33), addAxes(yAxes,'y',0,lim.glat,0.1,0.02,1,'GLAT',50)]);
ax.push([addAxes(xAxes,'x',1,lim.pmra,0.5,0.1,1,'pmRA [mas/yr]',33), addAxes(yAxes,'y',1,lim.pmde,0.25,0.05,2,'pmDE [mas/yr]',59)]);
ax.push([addAxes(xAxes,'x',2,lim.plx,0.2,0.05,1,'Plx [mas]',33), addAxes(yAxes,'y',2,lim.g,2,0.5,0,'G',42,true)]);
ax.push([addAxes(xAxes,'x',3,lim.bprp,1,0.2,0,'BP-RP',33), addAxes(yAxes,'y',3,lim.g,2,0.5,0,'G',42,true)]);

// colorbar axes
const cbX = xAxes.length;
xAxes.push({type:'value', gridIndex:4, min:0, max:1, show:false});
const cbY = yAxes.length;
yAxes.push({type:'value', gridIndex:4, min:probRange[0], max:probRange[1], position:'right',
  splitLine:{show:false}, axisLine:{show:false},
  axisTick:{show:true, inside:true, length:4.5, customValues:steps(probRange[0],probRange[1],0.1), lineStyle:{color:'#000',width:1}},
  axisLabel:{show:true, customValues:steps(probRange[0],probRange[1],0.1), formatter:fmt(1), margin:9, fontFamily:FONT, fontSize:FS, color:'#000'}});
yAxes.push({type:'value', gridIndex:4, min:probRange[0], max:probRange[1], position:'right',
  splitLine:{show:false}, axisLine:{show:false},
  axisTick:{show:true, inside:true, length:3, customValues:steps(probRange[0],probRange[1],0.02).filter(v=>Math.abs(v*10-Math.round(v*10))>1e-6), lineStyle:{color:'#000',width:0.9}},
  axisLabel:{show:false}});

const pointStyle = {borderColor:'#3a3a3a', borderWidth:0.5, opacity:0.8};
function scatter(data, k){
  return {type:'scatter', data:data, xAxisIndex:ax[k][0], yAxisIndex:ax[k][1], symbol:'circle', symbolSize:9.5,
    itemStyle:pointStyle, silent:true, emphasis:{disabled:true}};
}
const s3 = scatter(plxG, 2);
s3.markLine = {silent:true, symbol:'none', animation:false, label:{show:false}, z:10,
  lineStyle:{color:'#000', width:5, type:[5,9.7], dashOffset:5, cap:'butt', opacity:1},
  emphasis:{disabled:true},
  data:[[{coord:[plxMean[0], lim.g[0]]},{coord:[plxMean[0], lim.g[1]]}]]};

const option = {
  animation:false,
  backgroundColor:'#fff',
  grid: grids,
  xAxis: xAxes,
  yAxis: yAxes,
  visualMap: {type:'continuous', show:false, min:probRange[0], max:probRange[1], dimension:2, seriesIndex:[0,1,2,3],
    inRange:{color:plasma}},
  series: [
    scatter(glonGlat,0), scatter(pmRaDe,1), s3, scatter(bprpG,3),
    {type:'custom', xAxisIndex:cbX, yAxisIndex:cbY, silent:true, data:[[0.5, probRange[1]]],
      renderItem:(params, api)=>{
        const cs = params.coordSys;
        return {type:'rect', shape:{x:cs.x, y:cs.y, width:cs.width, height:cs.height},
          style:{fill:new echarts.graphic.LinearGradient(0,1,0,0, plasma.map((c,i)=>({offset:i/(plasma.length-1), color:c}))), opacity:0.8}};
      }}
  ]
};
const chart = echarts.init(document.getElementById('c'), null, {renderer:'canvas'});
chart.setOption(option);
</script>
</body></html>
